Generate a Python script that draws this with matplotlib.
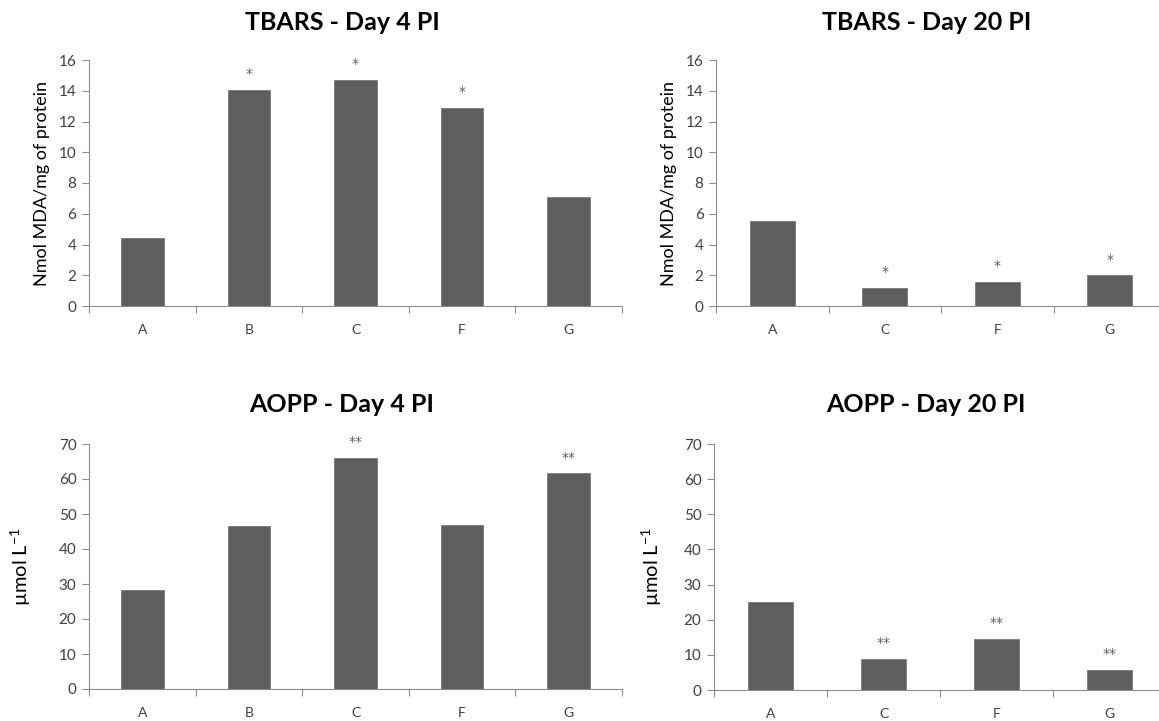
#!/usr/bin/env python3
"""Oxidative stress markers (TBARS / AOPP) at day 4 and day 20 PI."""

import matplotlib
matplotlib.use("Agg")
import matplotlib.pyplot as plt
from matplotlib.ticker import FixedLocator, NullFormatter

# data
groups_d4 = ["A", "B", "C", "F", "G"]
groups_d20 = ["A", "C", "F", "G"]

tbars_d4 = [4.45, 14.05, 14.72, 12.9, 7.1]
tbars_d4_sig = ["", "*", "*", "*", ""]
tbars_d20 = [5.55, 1.17, 1.58, 2.0]
tbars_d20_sig = ["", "*", "*", "*"]

aopp_d4 = [28.2, 46.6, 66.0, 47.0, 61.6]
aopp_d4_sig = ["", "", "**", "", "**"]
aopp_d20 = [24.9, 8.9, 14.5, 5.7]
aopp_d20_sig = ["", "**", "**", "**"]

BAR = "#5f5f5f"
AXIS = "#8c8c8c"
TEXT = "#404040"

plt.rcParams["font.family"] = ["Lato", "DejaVu Sans"]
plt.rcParams["mathtext.fontset"] = "custom"
plt.rcParams["mathtext.rm"] = "Lato"

W, H = 1159, 721
fig = plt.figure(figsize=(W / 100, H / 100), dpi=100)


def px_axes(x0, x1, ytop, ybot):
    return fig.add_axes([x0 / W, (H - ybot) / H, (x1 - x0) / W, (ybot - ytop) / H])


def bar_panel(ax, cats, vals, sig, ymax, step, ylabel, label_size):
    n = len(cats)
    x = list(range(n))
    ax.bar(x, vals, width=0.4, color=BAR, edgecolor="#7a7a7a", linewidth=0.6, zorder=2)
    for xi, v, s in zip(x, vals, sig):
        if s:
            ax.annotate(s, (xi, v), xytext=(0, 8.4), textcoords="offset points",
                        ha="center", va="baseline", fontsize=10,
                        family="DejaVu Sans", color="#606060")
    ax.set_xlim(-0.5, n - 0.5)
    ax.set_ylim(0, ymax)
    ax.set_yticks(range(0, ymax + 1, step))
    ax.set_xticks(x)
    ax.set_xticklabels(cats)
    ax.xaxis.set_minor_locator(FixedLocator([k - 0.5 for k in range(n + 1)]))
    ax.xaxis.set_minor_formatter(NullFormatter())
    ax.tick_params(axis="x", which="major", length=0, pad=13, labelsize=10, labelcolor=TEXT)
    ax.tick_params(axis="x", which="minor", length=5, width=0.8, color=AXIS, direction="out")
    ax.tick_params(axis="y", length=5, width=0.8, color=AXIS, pad=4, labelsize=11, labelcolor=TEXT)
    for side in ("top", "right"):
        ax.spines[side].set_visible(False)
    for side in ("left", "bottom"):
        ax.spines[side].set_color(AXIS)
        ax.spines[side].set_linewidth(0.8)
    ax.set_ylabel(ylabel, fontsize=label_size, color="black", labelpad=6)


tbars_label = "Nmol MDA/mg of protein"
aopp_label = r"µmol L$^{\mathregular{-1}}$"

ax1 = px_axes(89, 622, 60, 306)
bar_panel(ax1, groups_d4, tbars_d4, tbars_d4_sig, 16, 2, tbars_label, 13)

ax2 = px_axes(716, 1166, 60, 306)
bar_panel(ax2, groups_d20, tbars_d20, tbars_d20_sig, 16, 2, tbars_label, 13)

ax3 = px_axes(89, 622, 444, 689)
bar_panel(ax3, groups_d4, aopp_d4, aopp_d4_sig, 70, 10, aopp_label, 14.5)
ax3.yaxis.set_label_coords(-0.105, 0.5)

ax4 = px_axes(714, 1166, 444, 690)
bar_panel(ax4, groups_d20, aopp_d20, aopp_d20_sig, 70, 10, aopp_label, 14.5)
ax4.yaxis.set_label_coords(-0.11, 0.5)

titles = [
    ("TBARS - Day 4 PI", 342, 22),
    ("TBARS - Day 20 PI", 927, 22),
    ("AOPP - Day 4 PI", 342, 405),
    ("AOPP - Day 20 PI", 926, 405),
]
for t, xp, yp in titles:
    fig.text(xp / W, 1 - yp / H, t, ha="center", va="center",
             fontsize=18, fontweight="bold", color="black")

plt.savefig("out.png", dpi=100)
